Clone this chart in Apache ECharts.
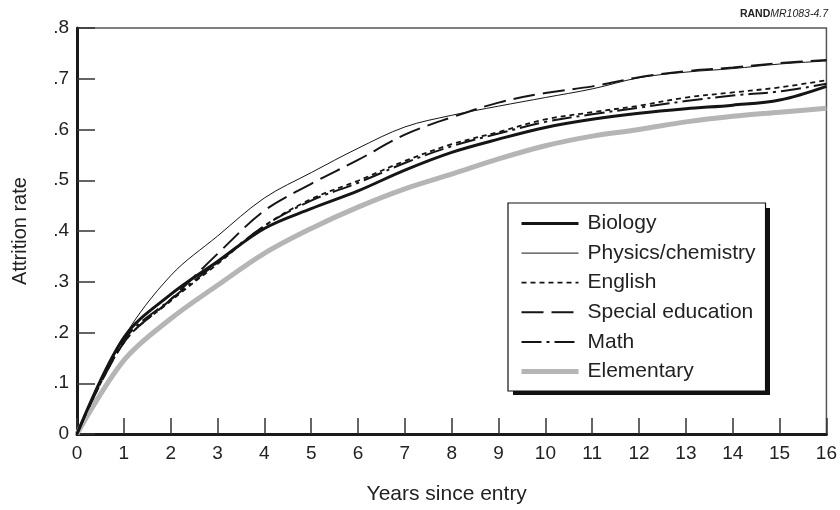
<!DOCTYPE html>
<html>
<head>
<meta charset="utf-8">
<script src="https://cdn.jsdelivr.net/npm/echarts@6/dist/echarts.min.js"></script>
<style>
html,body{margin:0;padding:0;background:#fff;}
#c{width:840px;height:510px;}
</style>
</head>
<body>
<div id="c"></div>
<script>
const years = [0,1,2,3,4,5,6,7,8,9,10,11,12,13,14,15,16];
const biology    = [0, 0.190, 0.275, 0.340, 0.405, 0.444, 0.479, 0.520, 0.555, 0.581, 0.604, 0.620, 0.632, 0.641, 0.648, 0.658, 0.685];
const physics    = [0, 0.190, 0.312, 0.390, 0.465, 0.515, 0.563, 0.605, 0.628, 0.646, 0.663, 0.680, 0.702, 0.713, 0.720, 0.729, 0.735];
const english    = [0, 0.180, 0.262, 0.335, 0.410, 0.463, 0.499, 0.538, 0.571, 0.595, 0.620, 0.634, 0.647, 0.663, 0.673, 0.683, 0.697];
const special    = [0, 0.180, 0.265, 0.355, 0.440, 0.493, 0.540, 0.590, 0.624, 0.653, 0.672, 0.685, 0.703, 0.715, 0.722, 0.731, 0.737];
const math       = [0, 0.185, 0.265, 0.338, 0.410, 0.460, 0.495, 0.534, 0.567, 0.592, 0.615, 0.630, 0.643, 0.656, 0.667, 0.675, 0.690];
const elementary = [0, 0.145, 0.227, 0.293, 0.356, 0.405, 0.447, 0.483, 0.512, 0.542, 0.568, 0.587, 0.600, 0.615, 0.626, 0.634, 0.642];
const seriesNames = ['Biology','Physics/chemistry','English','Special education','Math','Elementary'];
const xTicks = {min:0, max:16, interval:1};
const yTicks = {min:0, max:0.8, interval:0.1};

const FONT = 'Liberation Sans, Arial, Helvetica, sans-serif';
const chart = echarts.init(document.getElementById('c'), null, {renderer:'canvas'});

function pairs(arr){ return years.map((y,i)=>[y, arr[i]]); }
function mk(name, arr, ls, z){
  return {
    name, type:'line', data: pairs(arr), smooth:0.35,
    symbol:'none', showSymbol:false, lineStyle: ls, itemStyle:{color: ls.color},
    z: z, animation:false
  };
}

chart.setOption({
  animation:false,
  backgroundColor:'#fff',
  grid:{left:77, right:13, top:28, bottom:73, show:true, borderColor:'#555', borderWidth:1.5, backgroundColor:'transparent'},
  xAxis:{
    type:'value', min:xTicks.min, max:xTicks.max, interval:xTicks.interval,
    axisLine:{show:true, onZero:false, lineStyle:{color:'#1a1a1a', width:3}},
    axisTick:{show:true, inside:true, length:16, lineStyle:{color:'#333', width:1.5}},
    splitLine:{show:false},
    axisLabel:{fontFamily:FONT, fontSize:19, color:'#222', margin:10},
    name:'Years since entry', nameLocation:'middle', nameGap:50,
    nameTextStyle:{fontFamily:FONT, fontSize:21, color:'#222', padding:[0,10,0,0]}
  },
  yAxis:{
    type:'value', min:yTicks.min, max:yTicks.max, interval:yTicks.interval,
    axisLine:{show:true, onZero:false, lineStyle:{color:'#1a1a1a', width:3}},
    axisTick:{show:true, inside:true, length:18, lineStyle:{color:'#333', width:1.5}},
    splitLine:{show:false},
    axisLabel:{fontFamily:FONT, fontSize:19, color:'#222', margin:8,
      formatter:v=> Math.abs(v)<1e-9 ? '0' : v.toFixed(1).replace(/^0\./,'.')},
    name:'Attrition rate', nameLocation:'middle', nameGap:47, nameRotate:90,
    nameTextStyle:{fontFamily:FONT, fontSize:20, color:'#222'}
  },
  legend:{
    orient:'vertical', left:508, top:203,
    data: seriesNames,
    itemWidth:57, itemHeight:20, itemGap:8.6,
    padding:[10,10,9,11],
    backgroundColor:'#fff', borderColor:'#111', borderWidth:1.2, borderRadius:0,
    lineStyle:{width:'inherit'},
    itemStyle:{opacity:0},
    textStyle:{fontFamily:FONT, fontSize:21, lineHeight:20, color:'#222', padding:[0,0,0,4]},
    selectedMode:false, z:10
  },
  graphic:[
    {
      type:'rect', z:1, silent:true,
      shape:{x:513, y:208, width:257, height:187},
      style:{fill:'#111'}
    },
    {
      type:'text', right:12, top:9,
      style:{
        text:'{b|RAND}{i|MR1083-4.7}',
        rich:{
          b:{fontFamily:FONT, fontSize:10.5, fontWeight:'bold', fill:'#222'},
          i:{fontFamily:FONT, fontSize:10.5, fontStyle:'italic', fill:'#222'}
        }
      }
    }
  ],
  series:[
    mk(seriesNames[5], elementary, {color:'#b5b5b5', width:5}, 3),
    mk(seriesNames[0], biology, {color:'#151515', width:3}, 3),
    mk(seriesNames[1], physics, {color:'#151515', width:1}, 3),
    mk(seriesNames[2], english, {color:'#151515', width:1.8, type:[5,4]}, 3),
    mk(seriesNames[3], special, {color:'#151515', width:2, type:[22,8]}, 3),
    mk(seriesNames[4], math, {color:'#151515', width:2, type:[20,5,3,5]}, 3)
  ]
});
</script>
</body>
</html>
